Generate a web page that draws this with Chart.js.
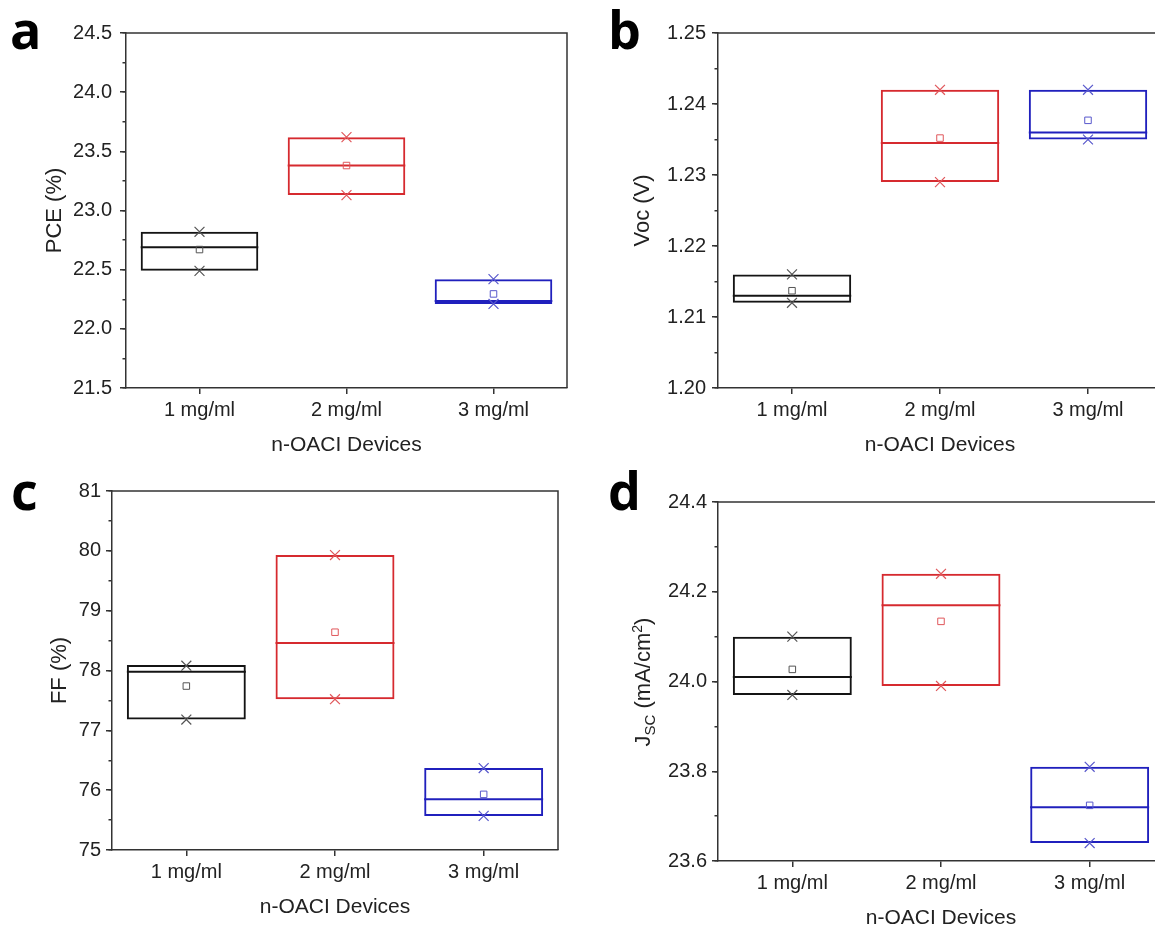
<!DOCTYPE html>
<html>
<head>
<meta charset="utf-8">
<script src="https://cdn.jsdelivr.net/npm/chart.js@4.4.1/dist/chart.umd.min.js"></script>
<style>
  html, body { margin: 0; padding: 0; background: #ffffff; }
  body { width: 1155px; height: 929px; position: relative; overflow: hidden; }
  canvas { position: absolute; }
  .letter { position: absolute; font-family: "Open Sans", "Liberation Sans", sans-serif; font-weight: 700;
            font-size: 52px; line-height: 52px; color: #000; z-index: 2; }
  .ytitle { position: absolute; font-family: "Liberation Sans", Arial, sans-serif; font-size: 22px; color: #222;
            white-space: nowrap; transform: translate(-50%, -50%) rotate(-90deg); line-height: 24px; z-index: 2; }
  .ytitle sub { font-size: 15px; vertical-align: -5px; line-height: 0; }
  .ytitle sup { font-size: 14px; vertical-align: 8px; line-height: 0; }
</style>
</head>
<body>
<canvas id="pa"></canvas>
<canvas id="pb"></canvas>
<canvas id="pc"></canvas>
<canvas id="pd"></canvas>
<div class="letter" style="left:10px; top:3px;">a</div>
<div class="letter" style="left:608px; top:3px;">b</div>
<div class="letter" style="left:11px; top:464px;">c</div>
<div class="letter" style="left:608px; top:464px;">d</div>
<div class="ytitle" style="left:643px; top:682px;">J<sub>SC</sub> (mA/cm<sup>2</sup>)</div>
<script>
// ---- data ----
const categories = ['1 mg/ml', '2 mg/ml', '3 mg/ml'];

// a: PCE (%)
const pceQ1 = [22.49, 23.13, 22.21];
const pceMedian = [22.69, 23.38, 22.235];
const pceQ3 = [22.82, 23.62, 22.42];
const pceMean = [22.67, 23.38, 22.295];
const pceMax = [22.82, 23.62, 22.42];
const pceMin = [22.49, 23.13, 22.21];
const pceTicks = [21.5, 24.5, 0.5, 0.25];

// b: Voc (V)
const vocQ1 = [1.212, 1.229, 1.235];
const vocMedian = [1.213, 1.2345, 1.236];
const vocQ3 = [1.216, 1.242, 1.242];
const vocMean = [1.2137, 1.2352, 1.2377];
const vocMax = [1.216, 1.242, 1.242];
const vocMin = [1.212, 1.229, 1.235];
const vocTicks = [1.20, 1.25, 0.01, 0.005];

// c: FF (%)
const ffQ1 = [77.18, 77.52, 75.57];
const ffMedian = [77.98, 78.46, 75.85];
const ffQ3 = [78.09, 79.93, 76.37];
const ffMean = [77.74, 78.64, 75.93];
const ffMax = [78.08, 79.93, 76.37];
const ffMin = [77.18, 77.52, 75.57];
const ffTicks = [75, 81, 1, 0.5];

// d: Jsc (mA/cm2)
const jscQ1 = [23.97, 23.99, 23.64];
const jscMedian = [24.01, 24.17, 23.72];
const jscQ3 = [24.10, 24.24, 23.81];
const jscMean = [24.027, 24.134, 23.724];
const jscMax = [24.10, 24.24, 23.81];
const jscMin = [23.97, 23.99, 23.64];
const jscTicks = [23.6, 24.4, 0.2, 0.1];

// ---- styles ----
const boxColors = ['#141414', '#d62a2f', '#2020bd'];
const markColors = ['#555555', '#e0575b', '#5858cc'];
const AX = '#333333';
const FONT = '"Liberation Sans", Arial, sans-serif';
const BAR_PCT = 0.8;

const framePlugin = {
  id: 'frame',
  afterDraw(chart) {
    const {ctx, chartArea: a} = chart;
    ctx.save();
    ctx.strokeStyle = AX;
    ctx.lineWidth = 1.5;
    ctx.beginPath();
    ctx.moveTo(a.left, a.top);
    ctx.lineTo(a.right, a.top);
    ctx.lineTo(a.right, a.bottom);
    ctx.stroke();
    ctx.restore();
  }
};

function makePanel(cfg) {
  const padTop = 25, padRight = 6, xH = 70;
  const cv = document.getElementById(cfg.id);
  const w = cfg.yW + (cfg.plotRight - cfg.plotLeft) + padRight;
  const h = padTop + (cfg.plotBottom - cfg.plotTop) + xH;
  cv.width = w; cv.height = h;
  cv.style.width = w + 'px'; cv.style.height = h + 'px';
  cv.style.left = (cfg.plotLeft - cfg.yW) + 'px';
  cv.style.top = (cfg.plotTop - padTop) + 'px';

  const boxes = cfg.q1.map((v, i) => [v, cfg.q3[i]]);
  const [ymin, ymax, major, minor] = cfg.ticks;
  const halfBox = c => c.chart.scales.x.width / categories.length * BAR_PCT / 2;

  new Chart(cv, {
    type: 'bar',
    data: {
      labels: categories,
      datasets: [
        { type: 'bar', data: boxes, backgroundColor: 'rgba(0,0,0,0)',
          borderColor: boxColors, borderSkipped: false, borderWidth: 2, order: 3 },
        { type: 'line', data: cfg.median, showLine: false, pointStyle: 'line', pointRadius: halfBox,
          pointBorderWidth: 2, pointBorderColor: boxColors, order: 2 },
        { type: 'line', data: cfg.mean, showLine: false, pointStyle: 'rect', pointRadius: 4.6,
          pointBorderWidth: 1, pointBorderColor: markColors, pointBackgroundColor: 'rgba(255,255,255,0)', order: 1 },
        { type: 'line', data: cfg.max, showLine: false, pointStyle: 'crossRot', pointRadius: 7,
          pointBorderWidth: 1.2, pointBorderColor: markColors, order: 1 },
        { type: 'line', data: cfg.min, showLine: false, pointStyle: 'crossRot', pointRadius: 7,
          pointBorderWidth: 1.2, pointBorderColor: markColors, order: 1 }
      ]
    },
    options: {
      responsive: false,
      animation: false,
      devicePixelRatio: 1,
      layout: { autoPadding: false, padding: { top: padTop, right: padRight, left: 0, bottom: 0 } },
      datasets: { bar: { barPercentage: BAR_PCT, categoryPercentage: 1.0 } },
      plugins: { legend: { display: false }, tooltip: { enabled: false } },
      scales: {
        x: {
          type: 'category', offset: true,
          grid: { drawOnChartArea: false, offset: false, tickLength: 6, color: AX, lineWidth: 1.5 },
          border: { color: AX, width: 1.5 },
          ticks: { font: { family: FONT, size: 20 }, color: '#222', padding: 4, maxRotation: 0, autoSkip: false },
          title: { display: true, text: 'n-OACI Devices', font: { family: FONT, size: 21 }, color: '#222',
                   padding: 0 },
          afterFit: s => { s.height = xH; }
        },
        y: {
          type: 'linear', position: 'left', weight: 1, min: ymin, max: ymax,
          grid: { drawOnChartArea: false, tickLength: 6, color: AX, lineWidth: 1.5 },
          border: { color: AX, width: 1.5 },
          ticks: { stepSize: major, font: { family: FONT, size: 20 }, color: '#222', padding: cfg.tickPad,
                   callback: v => Number(v).toFixed(cfg.decimals) },
          title: { display: cfg.yTitle !== null, text: cfg.yTitle || '', font: { family: FONT, size: 22 },
                   color: '#222', padding: 0 },
          afterFit: s => { s.width = cfg.yW; }
        },
        ym: {
          type: 'linear', axis: 'y', position: 'left', weight: 0, min: ymin, max: ymax,
          grid: { drawOnChartArea: false, tickLength: 3.5, color: AX, lineWidth: 1.5 },
          border: { display: false },
          ticks: { display: false, stepSize: minor },
          afterFit: s => { s.width = 0; }
        }
      }
    },
    plugins: [framePlugin]
  });
}

makePanel({ id: 'pa', plotLeft: 126, plotRight: 567, plotTop: 33, plotBottom: 388, yW: 84, tickPad: 8,
  q1: pceQ1, median: pceMedian, q3: pceQ3, mean: pceMean, max: pceMax, min: pceMin,
  ticks: pceTicks, decimals: 1, yTitle: 'PCE (%)' });
makePanel({ id: 'pb', plotLeft: 718, plotRight: 1162, plotTop: 33, plotBottom: 388, yW: 88, tickPad: 6,
  q1: vocQ1, median: vocMedian, q3: vocQ3, mean: vocMean, max: vocMax, min: vocMin,
  ticks: vocTicks, decimals: 2, yTitle: 'Voc (V)' });
makePanel({ id: 'pc', plotLeft: 112, plotRight: 558, plotTop: 491, plotBottom: 850, yW: 65, tickPad: 5,
  q1: ffQ1, median: ffMedian, q3: ffQ3, mean: ffMean, max: ffMax, min: ffMin,
  ticks: ffTicks, decimals: 0, yTitle: 'FF (%)' });
makePanel({ id: 'pd', plotLeft: 718, plotRight: 1164, plotTop: 502, plotBottom: 861, yW: 88, tickPad: 5,
  q1: jscQ1, median: jscMedian, q3: jscQ3, mean: jscMean, max: jscMax, min: jscMin,
  ticks: jscTicks, decimals: 1, yTitle: null });
</script>
</body>
</html>
